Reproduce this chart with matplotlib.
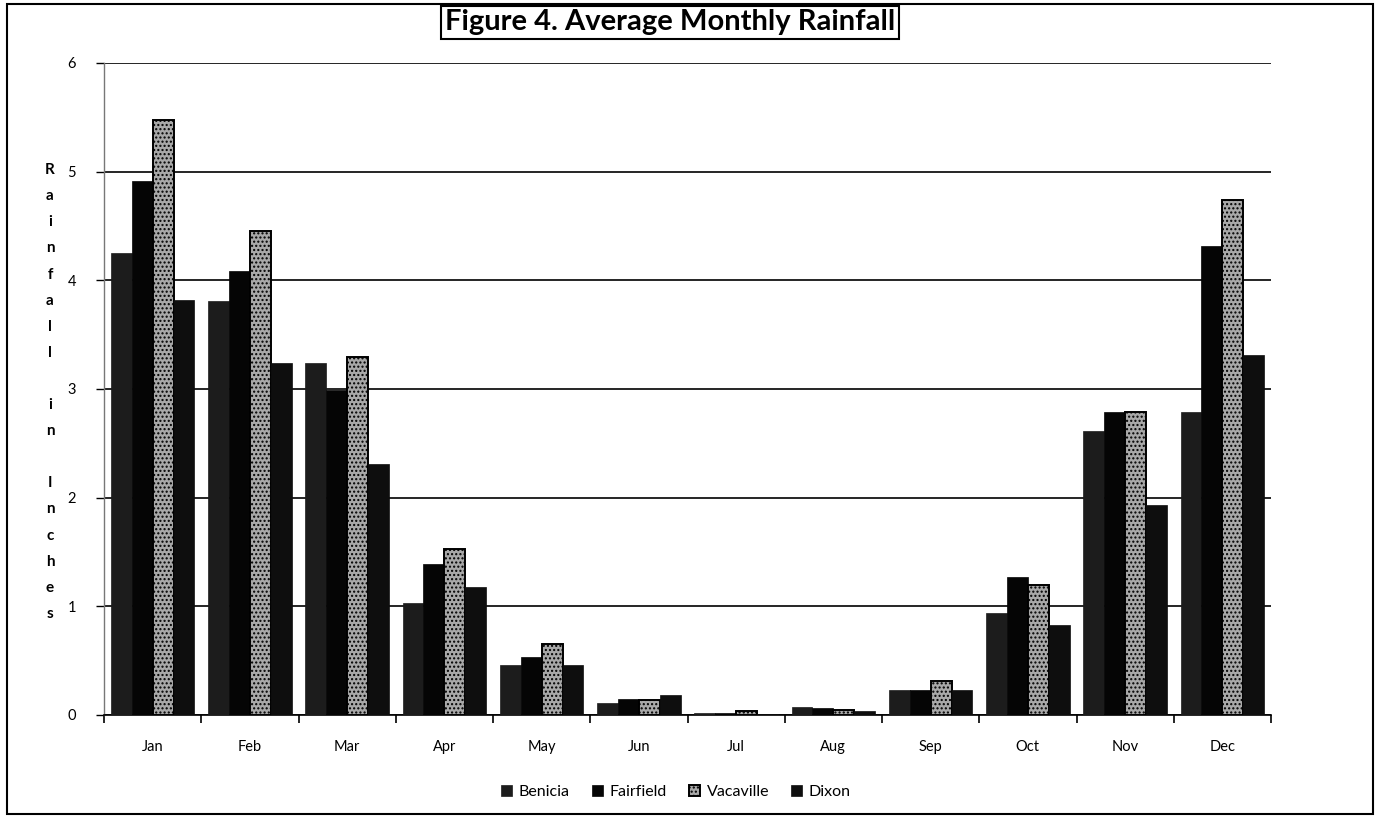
import numpy as np
import matplotlib.pyplot as plt
from matplotlib.patches import Rectangle

months = ["Jan", "Feb", "Mar", "Apr", "May", "Jun",
          "Jul", "Aug", "Sep", "Oct", "Nov", "Dec"]
benicia = [4.25, 3.81, 3.24, 1.03, 0.46, 0.11, 0.015, 0.07, 0.23, 0.94, 2.61, 2.79]
fairfield = [4.91, 4.09, 2.99, 1.39, 0.53, 0.15, 0.02, 0.06, 0.23, 1.27, 2.79, 4.32]
vacaville = [5.48, 4.45, 3.29, 1.53, 0.65, 0.14, 0.035, 0.05, 0.31, 1.20, 2.79, 4.74]
dixon = [3.82, 3.24, 2.31, 1.18, 0.46, 0.18, 0.01, 0.035, 0.23, 0.83, 1.93, 3.31]

series = ["Benicia", "Fairfield", "Vacaville", "Dixon"]
values = [benicia, fairfield, vacaville, dixon]
colors = ["#1c1c1c", "#050505", "#a8a8a8", "#0e0e0e"]

plt.rcParams["font.family"] = ["Lato", "DejaVu Sans"]

fig = plt.figure(figsize=(13.76, 8.16), dpi=100)
ax = fig.add_axes([104 / 1376, 1 - 715 / 816, (1271 - 104) / 1376, (715 - 63) / 816])

# outer chart border
fig.patches.append(Rectangle((7 / 1376, 0.002), 1366 / 1376, 1 - 4 / 816 - 0.002,
                             transform=fig.transFigure, fill=False,
                             edgecolor="black", linewidth=1.5))

x = np.arange(len(months))
w = 0.215
for i, (name, vals, c) in enumerate(zip(series, values, colors)):
    pos = x + (i - 1.5) * w
    if name == "Vacaville":
        ax.bar(pos, vals, w, color=c, edgecolor="black", linewidth=1.4,
               hatch="....", label=name, zorder=3)
    else:
        ax.bar(pos, vals, w, color=c, edgecolor=c, linewidth=0.5,
               label=name, zorder=3)

ax.set_xlim(-0.5, 11.5)
ax.set_ylim(0, 6)
ax.set_yticks(range(0, 7))
ax.set_xticks(x)
ax.set_xticklabels(months, fontsize=10.5)
ax.set_xticks(np.arange(-0.5, 12, 1), minor=True)
ax.tick_params(axis="x", which="major", length=0, pad=18)
ax.tick_params(axis="x", which="minor", length=6, width=1.2, direction="out")
ax.tick_params(axis="y", labelsize=10.5, length=6, width=1, direction="out", pad=14)

ax.yaxis.grid(True, color="black", linewidth=1.2, zorder=0)
ax.set_axisbelow(True)
for s in ["top", "right"]:
    ax.spines[s].set_visible(False)
ax.spines["left"].set_color("#777777")
ax.spines["left"].set_linewidth(1.0)
ax.spines["bottom"].set_linewidth(1.2)

# stacked vertical y label, one letter per line
letters = "\n".join(ch if ch != " " else "" for ch in "Rainfall in Inches")
fig.text(50 / 1376, 1 - 392 / 816, letters, ha="center", va="center",
         fontsize=11, fontweight="bold", linespacing=2.1)

fig.text(670 / 1376, 1 - 22 / 816, "Figure 4. Average Monthly Rainfall",
         ha="center", va="center", fontsize=21, fontweight="bold",
         bbox=dict(boxstyle="square,pad=0.12", facecolor="white",
                   edgecolor="black", linewidth=1.5))

ax.legend(loc="upper center", bbox_to_anchor=(0.49, -0.085), ncol=4,
          frameon=False, fontsize=11.5, handlelength=0.7, handleheight=0.7,
          columnspacing=1.4, handletextpad=0.4)

fig.savefig("out.png", dpi=100)
